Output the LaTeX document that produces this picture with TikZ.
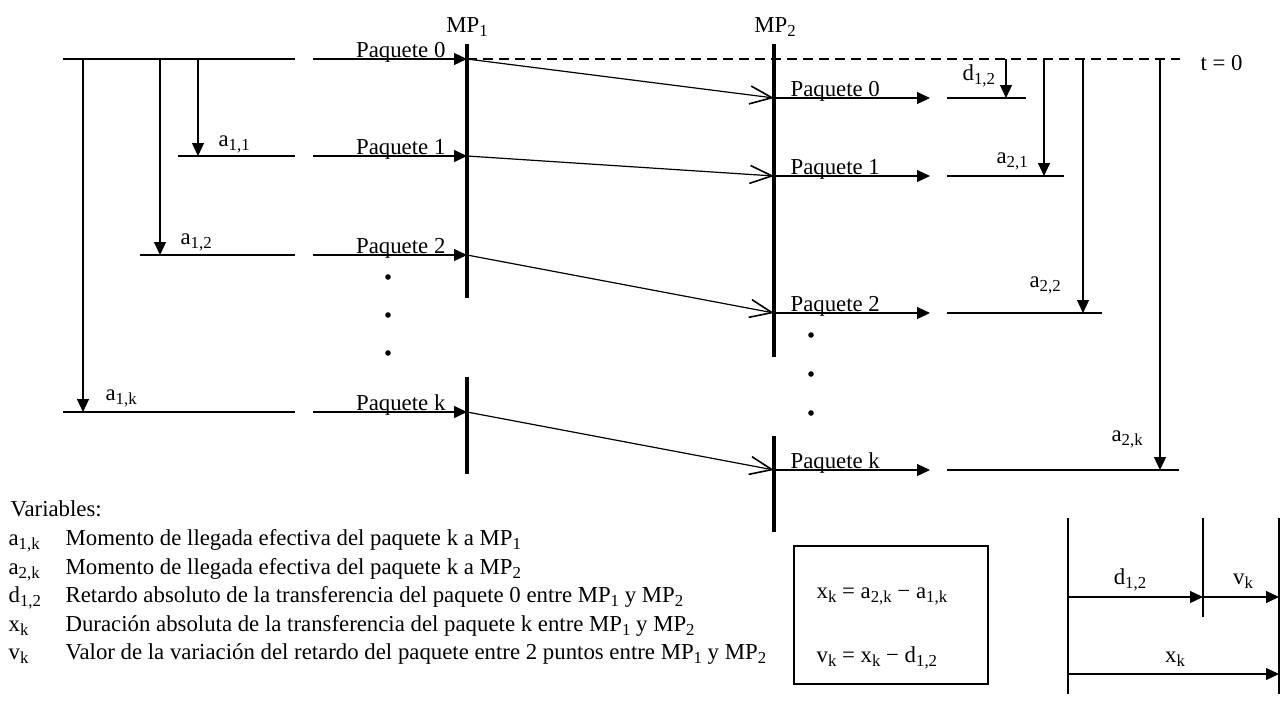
\documentclass[tikz,border=0pt]{standalone}
\usepackage{fontspec}
\setmainfont{Liberation Serif}
\usetikzlibrary{arrows.meta}
\newcommand\sbs[1]{\raisebox{-2pt}{\fontsize{8.4}{9}\selectfont #1}}
\begin{document}
\begin{tikzpicture}[x=0.5pt,y=-0.5pt,
  font=\fontsize{11.4}{13}\selectfont,
  every path/.style={line width=0.6pt},
  bar/.style={line width=2.3pt},
  tri/.style={-{Triangle[length=6.5pt,width=6pt]}},
  barb/.style={-{Straight Barb[length=11pt,width=9pt,line width=0.8pt]}},
  lbl/.style={inner sep=0pt, anchor=base west},
  lblr/.style={inner sep=0pt, anchor=base east},
  lblc/.style={inner sep=0pt, anchor=base},
  dotn/.style={circle, fill, inner sep=0pt, minimum size=2.8pt},
  dashline/.style={dash pattern=on 5pt off 3pt}
]
\useasboundingbox (0,0) rectangle (1280,703);

% ---------- MP bars ----------
\coordinate (m1a) at (467,44);  \coordinate (m1b) at (467,298);
\coordinate (m1c) at (467,377); \coordinate (m1d) at (467,474);
\coordinate (m2a) at (774,44);  \coordinate (m2b) at (774,357);
\coordinate (m2c) at (774,436); \coordinate (m2d) at (774,532);
\draw[bar] (m1a) -- (m1b);
\draw[bar] (m1c) -- (m1d);
\draw[bar] (m2a) -- (m2b);
\draw[bar] (m2c) -- (m2d);
\node[lblc] (mp1) at (467,32) {MP\sbs{1}};
\node[lblc] (mp2) at (775,32) {MP\sbs{2}};

% ---------- left time axis ----------
\coordinate (L0a) at (63,59);  \coordinate (L0b) at (295,59);
\coordinate (L1a) at (178,156); \coordinate (L1b) at (295,156);
\coordinate (L2a) at (140,255); \coordinate (L2b) at (295,255);
\coordinate (Lka) at (63,412);  \coordinate (Lkb) at (295,412);
\draw (L0a) -- (L0b);
\draw (L1a) -- (L1b);
\draw (L2a) -- (L2b);
\draw (Lka) -- (Lkb);
\coordinate (v1s) at (198,59);  \coordinate (v1e) at (198,156);
\coordinate (v2s) at (160,59);  \coordinate (v2e) at (160,255);
\coordinate (vks) at (83,59);   \coordinate (vke) at (83,412);
\draw[tri] (v1s) -- (v1e);
\draw[tri] (v2s) -- (v2e);
\draw[tri] (vks) -- (vke);
\node[lbl] (la11) at (218,146) {a\sbs{1,1}};
\node[lbl] (la12) at (180,244) {a\sbs{1,2}};
\node[lbl] (la1k) at (105,400) {a\sbs{1,k}};

% ---------- packets into MP1 ----------
\foreach \y/\n in {59/0,156/1,255/2,412/k}{
  \coordinate (S\n) at (313,\y);
  \coordinate (A\n) at (467,\y);
  \draw[tri] (S\n) -- (A\n);
  \node[lblr] (pa\n) at (446,\y-2) {Paquete \n};
}
\foreach \y [count=\i] in {277,315,353}{
  \node[dotn] (da\i) at (388,\y) {};
}

% ---------- packets out of MP2 ----------
\foreach \y/\n in {98/0,176/1,313/2,470/k}{
  \coordinate (B\n) at (774,\y);
  \coordinate (E\n) at (930,\y);
  \draw[tri] (B\n) -- (E\n);
  \node[lbl] (pb\n) at (790,\y-2) {Paquete \n};
}
\foreach \y [count=\i] in {335,374,413}{
  \node[dotn] (db\i) at (811,\y) {};
}

% ---------- transfers MP1 -> MP2 ----------
\foreach \n in {0,1,2,k}{
  \draw[barb] (A\n) -- (B\n);
}

% ---------- reference t = 0 ----------
\coordinate (tend) at (1180,59);
\draw[dashline] (A0) -- (tend);
\node[lbl] (t0) at (1200,70) {t = 0};

% ---------- right time axis ----------
\coordinate (R0a) at (947,98);  \coordinate (R0b) at (1026,98);
\coordinate (R1a) at (947,176); \coordinate (R1b) at (1064,176);
\coordinate (R2a) at (947,313); \coordinate (R2b) at (1102,313);
\coordinate (Rka) at (947,470); \coordinate (Rkb) at (1179,470);
\draw (R0a) -- (R0b);
\draw (R1a) -- (R1b);
\draw (R2a) -- (R2b);
\draw (Rka) -- (Rkb);
\coordinate (w0s) at (1006,59); \coordinate (w0e) at (1006,98);
\coordinate (w1s) at (1044,59); \coordinate (w1e) at (1044,176);
\coordinate (w2s) at (1083,59); \coordinate (w2e) at (1083,313);
\coordinate (wks) at (1160,59); \coordinate (wke) at (1160,470);
\draw[tri] (w0s) -- (w0e);
\draw[tri] (w1s) -- (w1e);
\draw[tri] (w2s) -- (w2e);
\draw[tri] (wks) -- (wke);
\node[lbl] (ld12) at (962,80) {d\sbs{1,2}};
\node[lbl] (la21) at (996,163) {a\sbs{2,1}};
\node[lbl] (la22) at (1029,287) {a\sbs{2,2}};
\node[lbl] (la2k) at (1111,441) {a\sbs{2,k}};

% ---------- legend ----------
\node[lbl] (var) at (10,516) {Variables:};
\node[lbl] (g1) at (8,545) {a\sbs{1,k}};
\node[lbl] (h1) at (65,545) {Momento de llegada efectiva del paquete k a MP\sbs{1}};
\node[lbl] (g2) at (8,574) {a\sbs{2,k}};
\node[lbl] (h2) at (65,574) {Momento de llegada efectiva del paquete k a MP\sbs{2}};
\node[lbl] (g3) at (8,602) {d\sbs{1,2}};
\node[lbl] (h3) at (65,602) {Retardo absoluto de la transferencia del paquete 0 entre MP\sbs{1} y MP\sbs{2}};
\node[lbl] (g4) at (8,631) {x\sbs{k}};
\node[lbl] (h4) at (65,631) {Duración absoluta de la transferencia del paquete k entre MP\sbs{1} y MP\sbs{2}};
\node[lbl] (g5) at (8,659) {v\sbs{k}};
\node[lbl] (h5) at (65,659) {Valor de la variación del retardo del paquete entre 2 puntos entre MP\sbs{1} y MP\sbs{2}};

% ---------- formula box ----------
\coordinate (bx1) at (794,546); \coordinate (bx2) at (988,684);
\draw (bx1) rectangle (bx2);
\node[lbl] (eq1) at (816,598) {x\sbs{k} = a\sbs{2,k} − a\sbs{1,k}};
\node[lbl] (eq2) at (816,662) {v\sbs{k} = x\sbs{k} − d\sbs{1,2}};

% ---------- small explanatory diagram ----------
\coordinate (q1a) at (1068,518); \coordinate (q1b) at (1068,694);
\coordinate (q2a) at (1203,518); \coordinate (q2b) at (1203,617);
\coordinate (q3a) at (1279,518); \coordinate (q3b) at (1279,694);
\draw (q1a) -- (q1b);
\draw (q2a) -- (q2b);
\draw (q3a) -- (q3b);
\coordinate (r1) at (1068,597); \coordinate (r2) at (1203,597); \coordinate (r3) at (1279,597);
\coordinate (s1) at (1068,674); \coordinate (s3) at (1279,674);
\draw[tri] (r1) -- (r2);
\draw[tri] (r2) -- (r3);
\draw[tri] (s1) -- (s3);
\node[lblc] (sd) at (1130,584) {d\sbs{1,2}};
\node[lblc] (sv) at (1243,584) {v\sbs{k}};
\node[lblc] (sx) at (1175,662) {x\sbs{k}};
\end{tikzpicture}
\end{document}
